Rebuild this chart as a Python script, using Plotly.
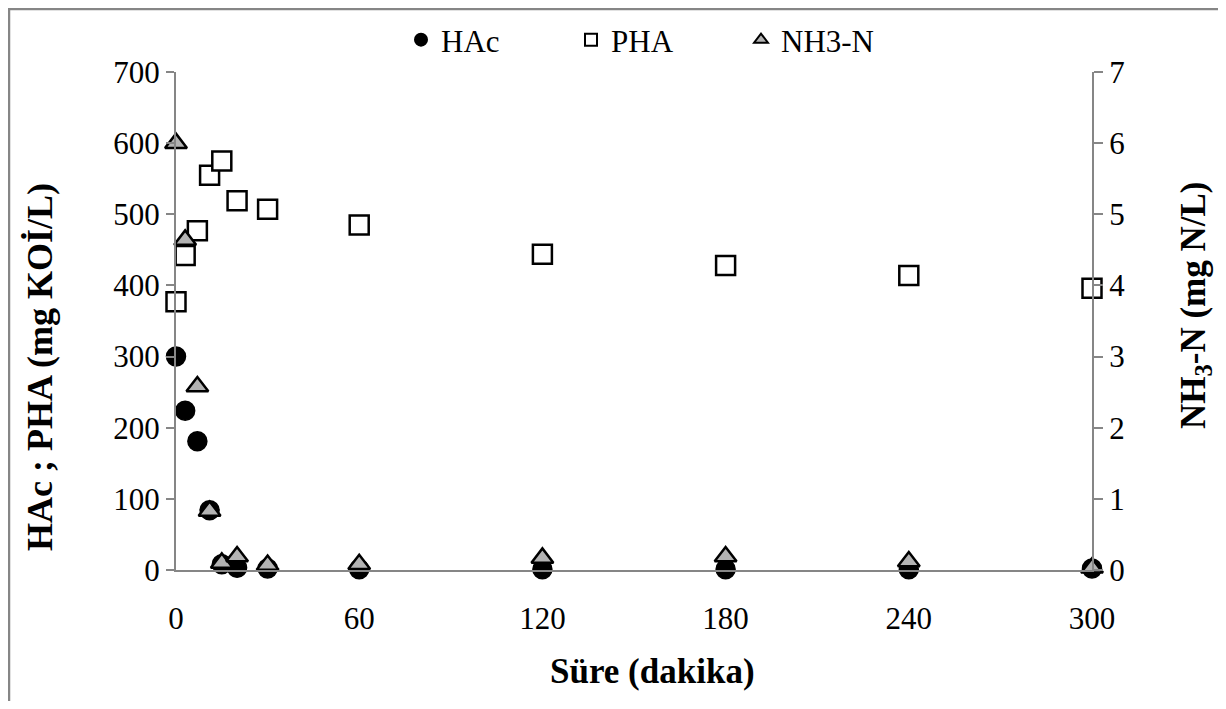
import plotly.graph_objects as go

time_min = [0, 3, 7, 11, 15, 20, 30, 60, 120, 180, 240, 300]
hac = [300, 224, 181, 84, 8, 3, 2, 1, 1, 1, 1, 2]
pha = [377, 442, 477, 555, 575, 519, 507, 485, 444, 428, 414, 396]
nh3n = [6.0, 4.64, 2.58, 0.83, 0.10, 0.19, 0.07, 0.08, 0.17, 0.19, 0.12, 0.03]

x_ticks = [0, 60, 120, 180, 240, 300]
y_ticks = [0, 100, 200, 300, 400, 500, 600, 700]
y2_ticks = [0, 1, 2, 3, 4, 5, 6, 7]

FONT = "Liberation Serif, Times New Roman, serif"
AX = "#868686"

fig = go.Figure()
fig.add_trace(go.Scatter(
    x=time_min, y=hac, mode="markers", name="HAc",
    marker=dict(symbol="circle", size=19, color="black",
                line=dict(color="black", width=1.5)),
    cliponaxis=False))
fig.add_trace(go.Scatter(
    x=time_min, y=pha, mode="markers", name="PHA",
    marker=dict(symbol="square", size=19, color="white",
                line=dict(color="black", width=2.5)),
    cliponaxis=False))
fig.add_trace(go.Scatter(
    x=time_min, y=nh3n, mode="markers", name="NH3-N", yaxis="y2",
    marker=dict(symbol="triangle-up", size=19, color="#b3b3b3",
                line=dict(color="black", width=2.5)),
    cliponaxis=False))

# page has an 8px body margin; figure sized to fit inside it
OFF = 8
W, H = 1210, 693
L, T = 176 - OFF, 72 - OFF
R = W - (1092 - OFF)
B = H - (570 - OFF)
pw, ph = W - L - R, H - T - B


def px(xp):
    return (xp - OFF - L) / pw


def py(yp):
    return (H - B - (yp - OFF)) / ph


fig.update_layout(
    width=W, height=H,
    margin=dict(l=L, r=R, t=T, b=B, autoexpand=False),
    paper_bgcolor="white", plot_bgcolor="white",
    font=dict(family=FONT, size=31, color="black"),
    showlegend=True,
    legend=dict(orientation="h", x=0.5 + 22 / pw, xanchor="center",
                y=py(40), yanchor="middle",
                font=dict(family=FONT, size=31, color="black"),
                itemsizing="constant", bgcolor="rgba(0,0,0,0)",
                entrywidth=125, itemwidth=30),
    xaxis=dict(range=[0, 300], tickvals=x_ticks, showgrid=False,
               zeroline=False, showline=True, linecolor=AX, linewidth=2,
               ticks="outside", ticklen=20, tickcolor="rgba(0,0,0,0)",
               tickfont=dict(family=FONT, size=31)),
    yaxis=dict(range=[0, 700], tickvals=y_ticks, showgrid=False,
               zeroline=False, showline=True, linecolor=AX, linewidth=2,
               ticks="outside", ticklen=8, tickcolor=AX, tickwidth=2,
               tickfont=dict(family=FONT, size=31)),
    yaxis2=dict(range=[0, 7], tickvals=y2_ticks, overlaying="y", side="right",
                showgrid=False, zeroline=False, showline=True, linecolor=AX,
                linewidth=2, ticks="outside", ticklen=9, tickcolor=AX,
                tickwidth=2, tickfont=dict(family=FONT, size=31)),
)

# axis titles
fig.add_annotation(text="<b>Süre (dakika)</b>", xref="paper", yref="paper",
                   x=px(652), y=py(672), xanchor="center", yanchor="middle",
                   showarrow=False, font=dict(family=FONT, size=35))
fig.add_annotation(text="<b>HAc ; PHA (mg KOİ/L)</b>", xref="paper",
                   yref="paper", x=px(40), y=py(367), xanchor="center",
                   yanchor="middle", textangle=-90, showarrow=False,
                   font=dict(family=FONT, size=36))
fig.add_annotation(text="<b>NH<sub>3</sub>-N (mg N/L)</b>", xref="paper",
                   yref="paper", x=px(1195), y=py(305), xanchor="center",
                   yanchor="middle", textangle=-90, showarrow=False,
                   font=dict(family=FONT, size=35))

# outer chart border (extends past the right/bottom edges like the original)
fig.add_shape(type="rect", xref="paper", yref="paper",
              x0=(1 - L) / pw, x1=(W + 40 - L) / pw,
              y0=(H - B - (H + 40)) / ph, y1=1 + (T - 1) / ph,
              line=dict(color=AX, width=2.5), fillcolor="rgba(0,0,0,0)",
              layer="below")

fig.write_html("out.html")
